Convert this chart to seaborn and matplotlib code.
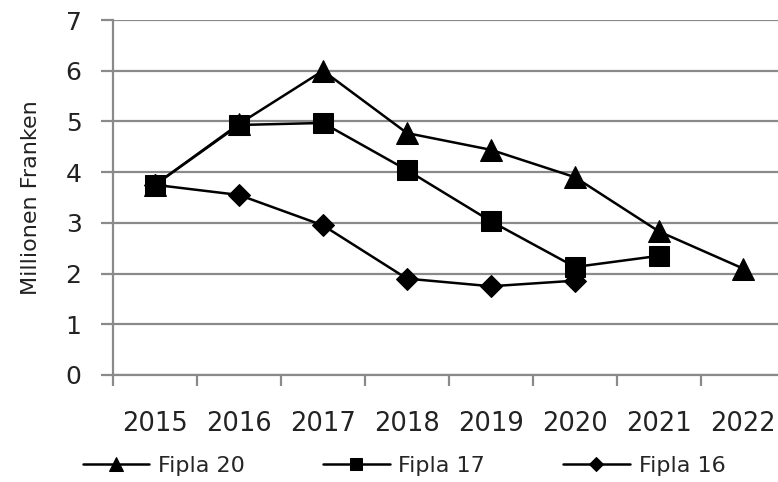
import matplotlib
matplotlib.use("Agg")
import matplotlib.pyplot as plt
import seaborn as sns
import numpy as np
import pandas as pd

years = ["2015", "2016", "2017", "2018", "2019", "2020", "2021", "2022"]
fipla20 = [3.75, 4.95, 6.0, 4.77, 4.44, 3.9, 2.83, 2.1]
fipla17 = [3.75, 4.93, 4.97, 4.04, 3.03, 2.13, 2.35]
fipla16 = [3.75, 3.55, 2.95, 1.9, 1.75, 1.86]
yticks = [0, 1, 2, 3, 4, 5, 6, 7]

sns.set_theme(style="white")
plt.rcParams['font.family'] = ['DejaVu Sans']

fig = plt.figure(figsize=(7.78, 4.82), dpi=100)
ax = fig.add_axes([113/778, 1-375/482, 672/778, 355/482])

series = [("Fipla 20", fipla20, "^", 16), ("Fipla 17", fipla17, "s", 15), ("Fipla 16", fipla16, "D", 11.5)]
for name, vals, mk, ms in series:
    df = pd.DataFrame({"x": np.arange(len(vals)), "y": vals})
    sns.lineplot(data=df, x="x", y="y", ax=ax, color="black", linewidth=1.8,
                 marker=mk, markersize=ms, markeredgecolor="black", markerfacecolor="black",
                 label=name)

ax.set_xlim(-0.5, len(years) - 0.5)
ax.set_ylim(0, 7)
ax.set_yticks(yticks)
ax.set_yticklabels([str(t) for t in yticks], fontsize=18, color="#222222")
ax.yaxis.grid(True, color="#8a8a8a", linewidth=1.6)
ax.xaxis.grid(False)
ax.set_axisbelow(True)

ax.set_xticks(np.arange(-0.5, len(years) + 0.5, 1.0))
ax.set_xticklabels([])
ax.set_xticks(np.arange(len(years)), minor=True)
ax.set_xticklabels(years, minor=True, fontsize=18.5, color="#222222")
ax.tick_params(axis="x", which="major", direction="out", length=8, width=1.6, color="#8a8a8a", bottom=True)
ax.tick_params(axis="x", which="minor", length=0, pad=26)
ax.tick_params(axis="y", direction="out", length=8.6, width=1.6, color="#8a8a8a", left=True, pad=14)

for s in ["top", "right"]:
    ax.spines[s].set_visible(False)
for s in ["left", "bottom"]:
    ax.spines[s].set_color("#8a8a8a")
    ax.spines[s].set_linewidth(1.6)

ax.set_xlabel("")
ax.set_ylabel("Millionen Franken", fontsize=16, color="#222222", labelpad=18)

ax.legend(loc="center", bbox_to_anchor=(404/778, 1-466/482), bbox_transform=fig.transFigure,
          ncol=3, frameon=False, fontsize=16, handlelength=3.0, columnspacing=3.5,
          markerscale=0.6, handletextpad=0.4, borderaxespad=0, borderpad=0)

fig.savefig("out.png", dpi=100)
